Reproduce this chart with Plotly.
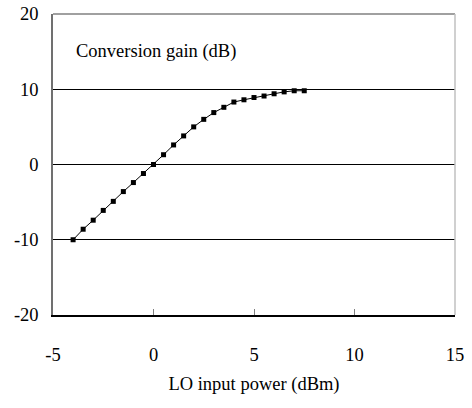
import plotly.graph_objects as go

lo_power = [-4.0, -3.5, -3.0, -2.5, -2.0, -1.5, -1.0, -0.5, 0.0, 0.5, 1.0, 1.5,
            2.0, 2.5, 3.0, 3.5, 4.0, 4.5, 5.0, 5.5, 6.0, 6.5, 7.0, 7.5]
conv_gain = [-10.0, -8.6, -7.4, -6.1, -4.9, -3.6, -2.4, -1.2, 0.0, 1.3, 2.6, 3.8,
             5.0, 6.0, 6.9, 7.6, 8.3, 8.6, 8.9, 9.1, 9.4, 9.65, 9.8, 9.8]
x_ticks = [-5, 0, 5, 10, 15]
y_ticks = [-20, -10, 0, 10, 20]

FONT = "Liberation Serif"
FS = 18.5

fig = go.Figure()
fig.add_trace(go.Scatter(
    x=lo_power, y=conv_gain, mode="lines+markers",
    line=dict(color="black", width=1),
    marker=dict(symbol="square", size=5, color="black"),
    showlegend=False,
))

fig.update_layout(
    width=472, height=408,
    margin=dict(l=53, r=17, t=14, b=93, autoexpand=False),
    paper_bgcolor="white", plot_bgcolor="white",
    font=dict(family=FONT, size=FS, color="black"),
    xaxis=dict(
        range=[-5, 15], tickvals=x_ticks, ticktext=[str(v) for v in x_ticks],
        showgrid=False, zeroline=False, automargin=False,
        showline=True, linecolor="black", linewidth=1.5,
        ticks="inside", ticklen=6, tickcolor="#808080", tickwidth=1,
        ticklabelstandoff=22, ticklabeloverflow="allow",
        tickfont=dict(family=FONT, size=FS),
        title=dict(text="LO input power (dBm)", font=dict(family=FONT, size=FS), standoff=13),
    ),
    yaxis=dict(
        range=[-20, 20], tickvals=y_ticks, ticktext=[str(v) for v in y_ticks],
        showgrid=True, gridcolor="black", gridwidth=1,
        zeroline=False, automargin=False,
        showline=True, linecolor="#707070", linewidth=1.5,
        ticks="", ticklabelstandoff=9, ticklabeloverflow="allow",
        tickfont=dict(family=FONT, size=FS),
    ),
    shapes=[
        dict(type="line", xref="paper", yref="paper", x0=0, x1=1, y0=1, y1=1,
             line=dict(color="#808080", width=1.5)),
        dict(type="line", xref="paper", yref="paper", x0=1, x1=1, y0=0, y1=1,
             line=dict(color="#c0c0c0", width=1.5)),
    ],
    annotations=[
        dict(text="Conversion gain (dB)", x=-3.95, y=15, xref="x", yref="y",
             xanchor="left", yanchor="middle", showarrow=False,
             font=dict(family=FONT, size=FS, color="black")),
    ],
)

fig.write_html("out.html", config={"displayModeBar": False},
               post_script="document.body.style.margin='0';")
